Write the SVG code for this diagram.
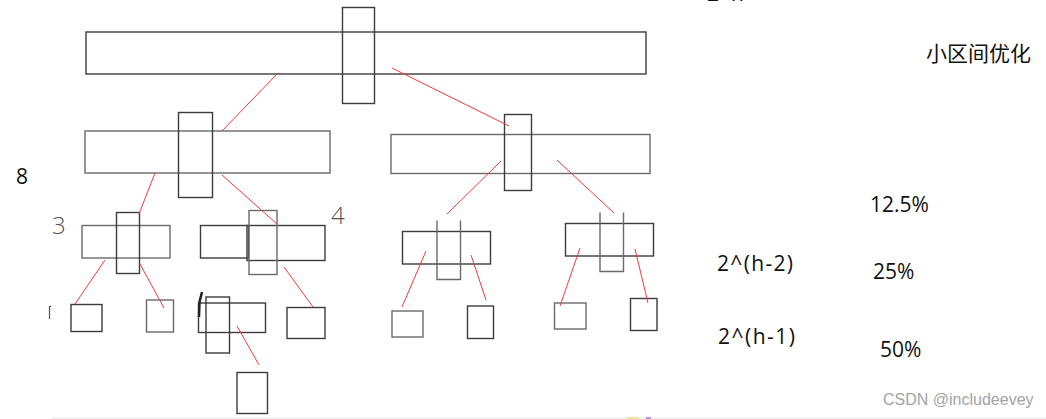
<svg xmlns="http://www.w3.org/2000/svg" width="1046" height="419" viewBox="0 0 1046 419">
<style>
.b{fill:none;stroke:#3c3c3c;stroke-width:1.4}
.g{fill:none;stroke:#6a6a6a;stroke-width:1.4}
.c line{stroke:#f23a3a;stroke-width:1}
.t{font-family:"Open Sans","Noto Sans CJK SC",sans-serif;fill:#111;font-size:21px}
.h{font-family:"Open Sans",sans-serif;fill:#555;font-size:24px;font-weight:300}
.w{font-family:"Liberation Sans",Arial,sans-serif;fill:#a3a3a3;font-size:16px}
</style>
<rect width="1046" height="419" fill="#fff"/>
<g id="root">
<rect class="b" x="86" y="32" width="560" height="42"/>
<rect class="b" x="342.5" y="7.5" width="32" height="96"/>
</g>
<g id="l2-left">
<rect class="g" x="85" y="131" width="245" height="42"/>
<rect class="b" x="178.5" y="112.5" width="34" height="85"/>
</g>
<g id="l2-right">
<rect class="g" x="391" y="134.5" width="259" height="39"/>
<rect class="b" x="504.5" y="114.5" width="27" height="76"/>
</g>
<g id="l3-a">
<rect class="g" x="82" y="225.5" width="88" height="32.5"/>
<rect class="b" x="116.5" y="212.5" width="23" height="61"/>
</g>
<g id="l3-b">
<rect class="b" x="200.5" y="225.5" width="48" height="32.5"/>
<rect class="b" x="247" y="225.5" width="78" height="35"/>
<rect class="g" x="249" y="210.5" width="28" height="64"/>
</g>
<g id="l3-c">
<rect class="b" x="402.5" y="231.5" width="88" height="32.5"/>
<path class="g" d="M437,220.5 V279.5 H460.5 V220.5"/>
</g>
<g id="l3-d">
<rect class="b" x="565.5" y="223.5" width="88" height="32.5"/>
<path class="g" d="M600,212.5 V271.5 H623.5 V212.5"/>
</g>
<g id="leaf-1"><rect class="b" x="71" y="304.5" width="31" height="27"/></g>
<g id="leaf-2"><rect class="g" x="146.5" y="300" width="27" height="32"/></g>
<g id="leaf-3">
<rect class="b" x="198.5" y="303" width="67" height="29.5"/>
<rect class="b" x="206" y="297" width="23.5" height="56"/>
</g>
<g id="leaf-4"><rect class="b" x="287" y="307.5" width="38" height="31"/></g>
<g id="leaf-5"><rect class="b" x="237" y="372.5" width="30.5" height="41"/></g>
<g id="leaf-6"><rect class="g" x="392" y="311" width="31" height="26"/></g>
<g id="leaf-7"><rect class="b" x="467.5" y="306" width="26" height="32.5"/></g>
<g id="leaf-8"><rect class="g" x="554.5" y="303" width="31.5" height="26"/></g>
<g id="leaf-9"><rect class="b" x="630.5" y="298.5" width="26.5" height="32"/></g>
<g id="connectors" class="c">
<line x1="277" y1="74" x2="222" y2="131"/>
<line x1="392" y1="68" x2="509" y2="126"/>
<line x1="155" y1="173" x2="139" y2="214"/>
<line x1="222" y1="175" x2="277" y2="224"/>
<line x1="501" y1="161" x2="447" y2="214"/>
<line x1="557" y1="160" x2="614" y2="213"/>
<line x1="105" y1="260" x2="75" y2="304"/>
<line x1="140" y1="264" x2="164" y2="308"/>
<line x1="284" y1="267" x2="313" y2="307"/>
<line x1="237" y1="326" x2="259" y2="365"/>
<line x1="426" y1="251" x2="402" y2="307"/>
<line x1="471" y1="255" x2="486" y2="300"/>
<line x1="580" y1="248" x2="560" y2="306"/>
<line x1="635" y1="249" x2="648" y2="303"/>
</g>
<g id="marks" fill="none" stroke="#555">
<path d="M202,292 L199.5,302 L199,317" stroke="#222" stroke-width="2.5"/>
<path d="M49.5,306 V319 M49.5,307 L51,306" stroke-width="1.2"/>
</g>
<g id="labels">
<text class="h" x="52" y="234">3</text>
<text class="h" x="331" y="224">4</text>
<text class="t" x="16" y="184">8</text>
<text class="t" x="707" y="1">2^h</text>
<text class="t" x="926" y="61" textLength="105">小区间优化</text>
<text class="t" x="870" y="212">12.5%</text>
<text class="t" x="873" y="279">25%</text>
<text class="t" x="880" y="357">50%</text>
<text class="t" x="717" y="271" textLength="76">2^(h-2)</text>
<text class="t" x="718" y="344" textLength="77">2^(h-1)</text>
<text class="w" x="883" y="405">CSDN @includeevey</text>
</g>
<g id="bottom">
<line x1="52" y1="418" x2="1046" y2="418" stroke="#eeeeee" stroke-width="1.5"/>
<rect x="627" y="417" width="12" height="2" fill="#f3e3a0"/>
<rect x="646" y="417" width="5" height="2" fill="#b59ad6"/>
</g>
</svg>
